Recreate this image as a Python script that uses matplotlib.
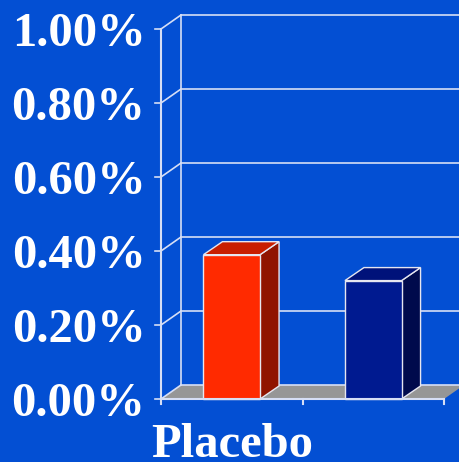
import matplotlib.pyplot as plt
from matplotlib.patches import Polygon

# incidence by treatment arm (%)
groups = ["Placebo", ""]
values = [0.39, 0.32]
yticks = [0.0, 0.2, 0.4, 0.6, 0.8, 1.0]
ytick_labels = ["0.00%", "0.20%", "0.40%", "0.60%", "0.80%", "1.00%"]

bg = "#034fd3"
grid_c = "#d6def5"
edge_c = "#e6e6f0"
front_cols = ["#ff2a00", "#001a90"]
side_cols = ["#901400", "#000a4c"]
top_cols = ["#c81e00", "#00127a"]

W, H = 460, 462
fig = plt.figure(figsize=(W / 100, H / 100), dpi=100, facecolor=bg)
ax = fig.add_axes([161 / W, (H - 399) / H, 283 / W, 370 / H])
ax.set_facecolor("none")
ax.set_xlim(0, 2)
ax.set_ylim(0, 1.0)
ax.axis("off")

# depth of the pseudo-3D box, in data units
dx = 20 / 283 * 2
dy = 14 / 370 * 1.0
xmax = 2

font = dict(family="Liberation Serif", weight="bold", color="white", size=35)

# floor
floor = Polygon([(0, 0), (xmax, 0), (xmax + dx, dy), (dx, dy)],
                closed=True, facecolor="#969696", edgecolor="none",
                clip_on=False, zorder=1)
ax.add_patch(floor)

# back wall gridlines, side-wall diagonals, y ticks and labels
for t, lab in zip(yticks, ytick_labels):
    ax.plot([dx, xmax + dx], [t + dy, t + dy], color=grid_c, lw=1.2,
            clip_on=False, zorder=2)
    ax.plot([0, dx], [t, t + dy], color=grid_c, lw=1.2, clip_on=False, zorder=2)
    ax.plot([-0.045, 0], [t, t], color=grid_c, lw=1.2, clip_on=False, zorder=2)
    ax.text(-0.11, t - 0.013, lab, ha="right", va="center",
            clip_on=False, **font)

ax.plot([dx, dx], [dy, 1.0 + dy], color=grid_c, lw=1.2, clip_on=False, zorder=2)
ax.plot([0, 0], [0, 1.0], color=grid_c, lw=1.5, clip_on=False, zorder=6)

# front edge of the floor with category ticks
ax.plot([0, xmax], [0, 0], color=grid_c, lw=1.5, clip_on=False, zorder=6)
for xt in [0, 1, 2]:
    ax.plot([xt, xt], [0, -0.014], color=grid_c, lw=1.5, clip_on=False, zorder=6)

# bars
bw = 0.40
bdx = dx * 0.95
bdy = dy * 0.93
for i, v in enumerate(values):
    c = i + 0.5
    x0, x1 = c - bw / 2, c + bw / 2
    side = Polygon([(x1, 0), (x1 + bdx, bdy), (x1 + bdx, v + bdy), (x1, v)],
                   closed=True, facecolor=side_cols[i], edgecolor=edge_c,
                   lw=1.0, clip_on=False, zorder=4)
    top = Polygon([(x0, v), (x1, v), (x1 + bdx, v + bdy), (x0 + bdx, v + bdy)],
                  closed=True, facecolor=top_cols[i], edgecolor=edge_c,
                  lw=1.0, clip_on=False, zorder=4)
    ax.add_patch(side)
    ax.add_patch(top)
    ax.bar(c, v, width=bw, color=front_cols[i], edgecolor=edge_c, lw=1.0,
           zorder=5, clip_on=False)

# category label under the first bar
ax.text(0.5, -0.125, groups[0], ha="center", va="center", clip_on=False, **font)

fig.savefig("out.png", dpi=100, facecolor=bg)
